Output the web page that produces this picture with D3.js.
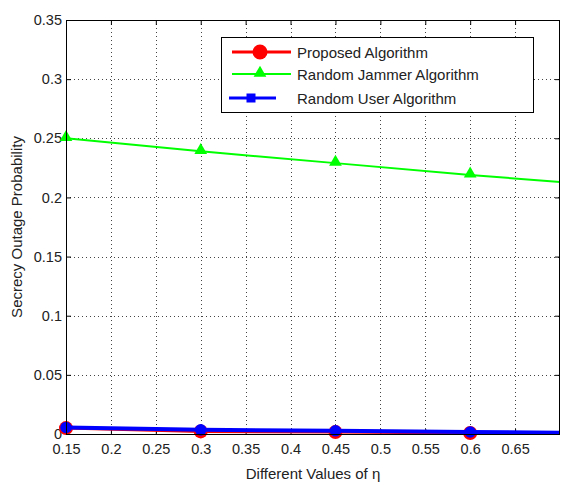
<!DOCTYPE html>
<html>
<head>
<meta charset="utf-8">
<script src="https://cdn.jsdelivr.net/npm/d3@7"></script>
<style>
  body { margin: 0; background: #fff; }
  svg { display: block; font-family: "Liberation Sans", Arial, sans-serif; }
</style>
</head>
<body>
<svg id="chart" width="561" height="483"></svg>
<script>
// values
let eta = [0.15, 0.3, 0.45, 0.6, 0.7];
let marker_eta = [0.15, 0.3, 0.45, 0.6];
let proposed = [0.005, 0.0022, 0.0016, 0.0009, 0.0006];
let jammer = [0.25, 0.239, 0.229, 0.219, 0.213];
let random_user = [0.0055, 0.0035, 0.0027, 0.0017, 0.0011];
let x_ticks = [0.15, 0.2, 0.25, 0.3, 0.35, 0.4, 0.45, 0.5, 0.55, 0.6, 0.65];
let y_ticks = [0, 0.05, 0.1, 0.15, 0.2, 0.25, 0.3, 0.35];
let legend_names = ['Proposed Algorithm', 'Random Jammer Algorithm', 'Random User Algorithm'];

let plot_left = 66, plot_right = 560, plot_top = 20, plot_bottom = 434;
let tick_len = 5;

let svg = d3.select('#chart');

let x = d3.scaleLinear().domain([0.15, 0.7]).range([plot_left, plot_right]);
let y = d3.scaleLinear().domain([0, 0.35]).range([plot_bottom, plot_top]);

// grid
svg.append('g').selectAll('line').data(x_ticks.slice(1)).enter().append('line')
    .attr('x1', d => Math.round(x(d)) + 0.5).attr('x2', d => Math.round(x(d)) + 0.5)
    .attr('y1', plot_top).attr('y2', plot_bottom)
    .attr('stroke', '#444').attr('stroke-dasharray', '1,3');
svg.append('g').selectAll('line').data(y_ticks.slice(1, -1)).enter().append('line')
    .attr('y1', d => Math.round(y(d)) + 0.5).attr('y2', d => Math.round(y(d)) + 0.5)
    .attr('x1', plot_left).attr('x2', plot_right)
    .attr('stroke', '#444').attr('stroke-dasharray', '1,3');

// axes, matlab style ticks pointing in
let fmt = d => String(+d.toFixed(2));
svg.append('g').attr('transform', 'translate(0,' + plot_bottom + ')')
    .call(d3.axisBottom(x).tickValues(x_ticks).tickSizeInner(-tick_len).tickSizeOuter(0).tickPadding(10).tickFormat(fmt))
    .call(g => g.select('.domain').remove());
svg.append('g').attr('transform', 'translate(0,' + plot_top + ')')
    .call(d3.axisTop(x).tickValues(x_ticks).tickSizeInner(-tick_len).tickSizeOuter(0).tickFormat(''))
    .call(g => g.select('.domain').remove());
svg.append('g').attr('transform', 'translate(' + plot_left + ',0)')
    .call(d3.axisLeft(y).tickValues(y_ticks).tickSizeInner(-tick_len).tickSizeOuter(0).tickPadding(4).tickFormat(fmt))
    .call(g => g.select('.domain').remove());
svg.append('g').attr('transform', 'translate(' + plot_right + ',0)')
    .call(d3.axisRight(y).tickValues(y_ticks).tickSizeInner(-tick_len).tickSizeOuter(0).tickFormat(''))
    .call(g => g.select('.domain').remove());

svg.selectAll('.tick text').attr('font-size', 14.5).attr('fill', '#222')
    .attr('font-family', '"Liberation Sans", Arial, sans-serif');
svg.selectAll('.tick line').attr('stroke', '#000');

// lines
let line = d3.line().x((d, i) => x(eta[i])).y(d => y(d));

function draw_series(values, color, width) {
    svg.append('path').datum(values)
        .attr('d', line)
        .attr('fill', 'none')
        .attr('stroke', color)
        .attr('stroke-width', width);
}

draw_series(proposed, '#ff0000', 3);
draw_series(jammer, '#00ff00', 2);

// red markers
svg.append('g').selectAll('circle').data(marker_eta).enter().append('circle')
    .attr('cx', d => x(d)).attr('cy', (d, i) => y(proposed[i]))
    .attr('r', 7).attr('fill', '#ff0000');

draw_series(random_user, '#0000ff', 4);

// blue markers
svg.append('g').selectAll('circle').data(marker_eta).enter().append('circle')
    .attr('cx', d => x(d)).attr('cy', (d, i) => y(random_user[i]))
    .attr('r', 5.8).attr('fill', '#0000ff');

// green markers
let tri = d3.symbol().type(d3.symbolTriangle).size(70);
svg.append('g').selectAll('path').data(marker_eta).enter().append('path')
    .attr('d', tri)
    .attr('transform', (d, i) => 'translate(' + x(d) + ',' + (y(jammer[i]) - 1) + ')')
    .attr('fill', '#00ff00');

// frame
svg.append('rect')
    .attr('x', plot_left + 0.5).attr('y', plot_top + 0.5)
    .attr('width', plot_right - plot_left - 1).attr('height', plot_bottom - plot_top)
    .attr('fill', 'none').attr('stroke', '#000');

// axis labels
svg.append('text')
    .attr('x', (plot_left + plot_right) / 2).attr('y', 479)
    .attr('text-anchor', 'middle').attr('font-size', 15).attr('fill', '#222')
    .text('Different Values of η');
svg.append('text')
    .attr('transform', 'translate(22,' + (plot_top + plot_bottom) / 2 + ') rotate(-90)')
    .attr('text-anchor', 'middle').attr('font-size', 15).attr('fill', '#222')
    .text('Secrecy Outage Probability');

// legend
let legend = svg.append('g');
legend.append('rect')
    .attr('x', 221.5).attr('y', 37.5).attr('width', 312).attr('height', 75)
    .attr('fill', '#fff').attr('stroke', '#000');

let legend_y = [52, 74, 98];
let legend_colors = ['#ff0000', '#00ff00', '#0000ff'];
let legend_x1 = [232, 232, 229], legend_x2 = [291, 291, 276], legend_mx = [260, 260, 251];
let legend_w = [3, 2, 3];

legend_names.forEach((name, i) => {
    legend.append('line')
        .attr('x1', legend_x1[i]).attr('x2', legend_x2[i])
        .attr('y1', legend_y[i]).attr('y2', legend_y[i])
        .attr('stroke', legend_colors[i]).attr('stroke-width', legend_w[i]);
    legend.append('text')
        .attr('x', 297).attr('y', legend_y[i] + 6)
        .attr('font-size', 15).attr('fill', '#222')
        .text(name);
});
legend.append('circle').attr('cx', legend_mx[0]).attr('cy', legend_y[0]).attr('r', 7.5).attr('fill', '#ff0000');
legend.append('path').attr('d', tri)
    .attr('transform', 'translate(' + legend_mx[1] + ',' + (legend_y[1] - 1) + ')')
    .attr('fill', '#00ff00');
legend.append('rect').attr('x', legend_mx[2] - 4.5).attr('y', legend_y[2] - 4.5)
    .attr('width', 9).attr('height', 9).attr('fill', '#0000ff');
</script>
</body>
</html>
